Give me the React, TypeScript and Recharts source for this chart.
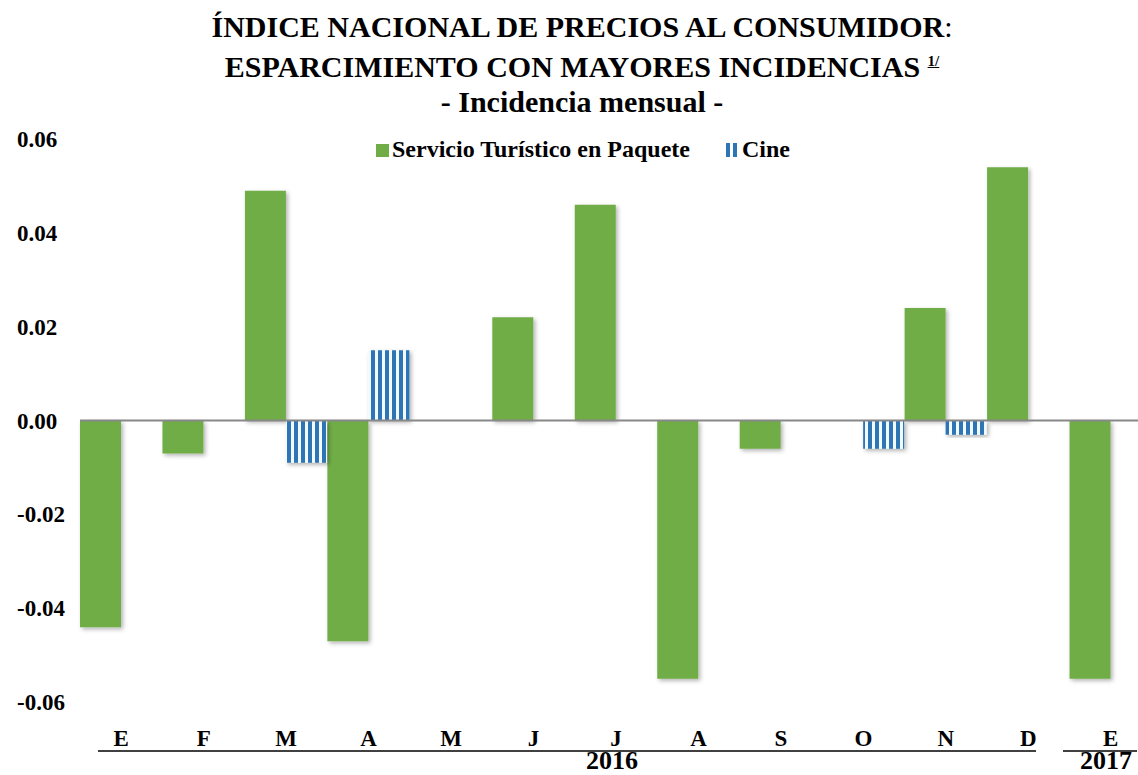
import React from "react";
import { BarChart, Bar, XAxis, YAxis, ReferenceLine } from "recharts";

const months = ["E", "F", "M", "A", "M", "J", "J", "A", "S", "O", "N", "D", "E"];
const servicioTuristico = [-0.044, -0.007, 0.049, -0.047, 0, 0.022, 0.046, -0.055, -0.006, 0, 0.024, 0.054, -0.055];
const cine = [0, 0, -0.009, 0.015, 0, 0, 0, 0, 0, -0.006, -0.003, 0, 0];
const yTicks = [-0.06, -0.04, -0.02, 0, 0.02, 0.04, 0.06];
const years = [
  { label: "2016", x: 612, from: 98, to: 1036 },
  { label: "2017", x: 1106, from: 1063, to: 1137 },
];

const data = months.map((m, i) => ({
  key: `${m}${i}`,
  mes: m,
  servicio: servicioTuristico[i],
  cine: cine[i],
}));

const FONT = "Liberation Serif";
const CSS_FONT = "serif";
const GREEN = "#70AD47";
const BLUE = "#2E75B6";

function T({ x, y, size, anchor = "start", children }: any) {
  return (
    <text x={x} y={y} textAnchor={anchor} fontFamily={FONT} fontWeight="bold" fontSize={size} fill="#000">
      {children}
    </text>
  );
}

function YTick({ y, payload }: any) {
  return (
    <T x={17} y={y + 8} size={23}>
      {payload.value.toFixed(2)}
    </T>
  );
}

function XTick({ x, y, payload }: any) {
  return (
    <T x={x} y={y + 17} anchor="middle" size={23}>
      {months[payload.index] ?? payload.value}
    </T>
  );
}

const legendText: React.CSSProperties = {
  position: "absolute",
  top: 137,
  fontFamily: CSS_FONT,
  fontWeight: "bold",
  fontSize: 24,
  lineHeight: "24px",
  whiteSpace: "nowrap",
  color: "#000",
};

export default function App() {
  return (
    <div style={{ position: "absolute", left: 0, top: 0, width: 1138, height: 775, overflow: "hidden", background: "#fff" }}>
      <div style={{ position: "absolute", left: 0, top: 0 }}>
        <BarChart
          width={1152}
          height={775}
          data={data}
          margin={{ top: 139, right: 0, bottom: 14, left: 0 }}
          barGap={0}
          barCategoryGap={0}
        >
          <defs>
            <pattern id="rayas" width="7" height="10" patternUnits="userSpaceOnUse">
              <rect width="7" height="10" fill="#F2FAFF" />
              <rect width="4" height="10" fill={BLUE} />
            </pattern>
            <filter id="sombra" x="-20%" y="-20%" width="140%" height="140%">
              <feDropShadow dx="2" dy="2" stdDeviation="2" floodColor="#000" floodOpacity="0.3" />
            </filter>
          </defs>
          <XAxis dataKey="key" axisLine={false} tickLine={false} tick={<XTick />} height={40} interval={0} />
          <YAxis
            domain={[-0.064, 0.06]}
            ticks={yTicks}
            axisLine={false}
            tickLine={false}
            tick={<YTick />}
            width={80}
            allowDataOverflow
          />
          <Bar dataKey="servicio" name="Servicio Turístico en Paquete" fill={GREEN} filter="url(#sombra)" isAnimationActive={false} />
          <Bar dataKey="cine" name="Cine" fill="url(#rayas)" filter="url(#sombra)" isAnimationActive={false} />
          <ReferenceLine y={0} stroke="#888" strokeWidth={2} />
        </BarChart>
      </div>

      {/* título */}
      <div
        style={{
          position: "absolute",
          top: 9,
          left: 0,
          width: 1164,
          textAlign: "center",
          whiteSpace: "nowrap",
          fontFamily: CSS_FONT,
          fontWeight: "bold",
          fontSize: 30,
          lineHeight: "35px",
          color: "#000",
        }}
      >
        <div>
          ÍNDICE NACIONAL DE PRECIOS AL CONSUMIDOR<span style={{ fontWeight: "normal" }}>:</span>
        </div>
        <div>
          ESPARCIMIENTO CON MAYORES INCIDENCIAS{" "}
          <span style={{ fontSize: 15, verticalAlign: 11, textDecoration: "underline" }}>1/</span>
        </div>
        <div>- Incidencia mensual -</div>
      </div>

      {/* leyenda */}
      <div style={{ ...legendText, left: 392 }}>Servicio Turístico en Paquete</div>
      <div style={{ ...legendText, left: 742 }}>Cine</div>

      {/* marcas de la leyenda y años */}
      <svg width={1138} height={775} style={{ position: "absolute", left: 0, top: 0, pointerEvents: "none" }}>
        <rect x={376} y={144} width={13} height={13} fill={GREEN} />
        <rect x={726} y={143} width={4} height={14} fill={BLUE} />
        <rect x={733} y={143} width={4} height={14} fill={BLUE} />
        {years.map((yr) => (
          <g key={yr.label}>
            <line x1={yr.from} x2={yr.to} y1={751} y2={751} stroke="#000" strokeWidth={1.5} />
            <T x={yr.x} y={769} anchor="middle" size={26}>{yr.label}</T>
          </g>
        ))}
      </svg>
    </div>
  );
}
